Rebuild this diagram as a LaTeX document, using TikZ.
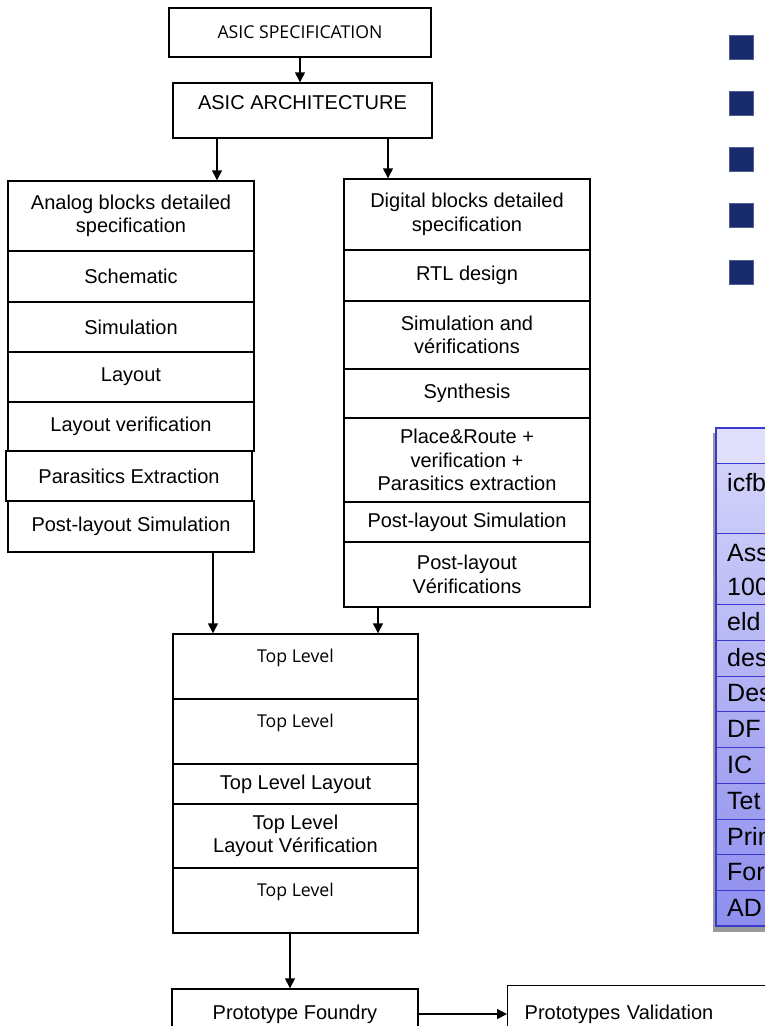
\documentclass[tikz,border=0pt]{standalone}
\usepackage{fontspec}
\setmainfont{Liberation Sans}
\newfontfamily\notefont{Open Sans}
\usetikzlibrary{arrows.meta}
\definecolor{navy}{HTML}{172A6B}
\definecolor{lilactop}{HTML}{E0E0FC}
\definecolor{lilac}{HTML}{D2D2FA}
\definecolor{lilacdark}{HTML}{8E8EEE}
\definecolor{rule}{HTML}{3A3AD0}

\begin{document}
\begin{tikzpicture}[x=1pt,y=-1pt]
	\def\lw{1.4pt}
	\tikzstyle{cell} = [draw, line width=\lw, rectangle, inner sep=0pt, align=center, font=\fontsize{20}{23.5}\selectfont];
	\tikzstyle{small} = [font=\notefont\fontsize{17.7}{22}\selectfont];
	\tikzstyle{link} = [draw, line width=\lw, -{Triangle[length=10pt,width=10pt]}];
	\tikzstyle{bullet} = [draw=navy!75!white, fill=navy, rectangle, minimum size=24pt, inner sep=0pt];
	\tikzstyle{entry} = [anchor=west, inner sep=0pt, font=\fontsize{25}{34}\selectfont];
	\useasboundingbox[fill=white] (0,0) rectangle (765,1026);

	% top of the flow
	\node[cell, small, minimum width=262pt, minimum height=49pt] (spec) at (300,32.5) {ASIC SPECIFICATION};
	\node[cell, minimum width=259pt, minimum height=55pt] (arch) at (302.5,110.5) {ASIC ARCHITECTURE\\[-8pt]\phantom{A}};

	% analog column
	\foreach \nm/\xc/\ya/\yb/\txt in {a1/131/181/251/{Analog blocks detailed\\specification},
		a2/131/251/302/Schematic, a3/131/302/352/Simulation, a4/131/352/402/Layout,
		a5/131/402/451/Layout verification, a6/129/451/501/Parasitics Extraction,
		a7/131/501/552/Post-layout Simulation}
	{
		\node[cell, minimum width=246pt, minimum height={(\yb-\ya)*1pt}] (\nm) at (\xc,{(\ya+\yb)/2}) {\txt};
	}

	% digital column
	\foreach \nm/\ya/\yb/\txt in {d1/179/250/{Digital blocks detailed\\specification},
		d2/250/301/RTL design, d3/301/369/{Simulation and\\vérifications},
		d4/369/418/Synthesis, d5/418/502/{Place\&Route +\\verification +\\Parasitics extraction},
		d6/502/542/Post-layout Simulation, d7/542/607/{Post-layout\\Vérifications}}
	{
		\node[cell, minimum width=246pt, minimum height={(\yb-\ya)*1pt}] (\nm) at (467,{(\ya+\yb)/2}) {\txt};
	}

	% top level
	\node[cell, small, minimum width=245pt, minimum height=65pt] (t1) at (295.5,666.5) {Top Level\\\phantom{T}};
	\node[cell, small, minimum width=245pt, minimum height=65pt] (t2) at (295.5,731.5) {Top Level\\\phantom{T}};
	\node[cell, minimum width=245pt, minimum height=40pt] (t3) at (295.5,784) {Top Level Layout};
	\node[cell, minimum width=245pt, minimum height=64pt] (t4) at (295.5,836) {Top Level\\Layout Vérification};
	\node[cell, small, minimum width=245pt, minimum height=65pt] (t5) at (295.5,900.5) {Top Level\\\phantom{T}};

	% prototypes
	\node[cell, minimum width=246pt, minimum height=50pt] (pf) at (295,1014) {Prototype Foundry};
	\node[cell, anchor=north west, text width=283pt, align=left, inner xsep=17pt, minimum height=58pt] (pv) at (507,985) {Prototypes Validation};

	% arrows
	\draw[link] (spec.south) -- (spec.south |- arch.north);
	\draw[link] ([xshift=-85.5pt]arch.south) -- ([xshift=-85.5pt]arch.south |- a1.north);
	\draw[link] ([xshift=85.5pt]arch.south) -- ([xshift=85.5pt]arch.south |- d1.north);
	\draw[link] ([xshift=82pt]a7.south) -- ([xshift=82pt]a7.south |- t1.north);
	\draw[link] ([xshift=-89pt]d7.south) -- ([xshift=-89pt]d7.south |- t1.north);
	\draw[link] ([xshift=-5.5pt]t5.south) -- ([xshift=-5.5pt]t5.south |- pf.north);
	\draw[link] (pf.east) -- (pf.east -| pv.west);

	% bullets
	\foreach \i in {0,...,4}
		\node[bullet] (sq\i) at (741,{47+56.2*\i}) {};

	% table
	\fill[black!40] (713,433) rectangle (780,932);
	\fill[lilactop] (716,428) rectangle (780,463);
	\shade[top color=lilac, bottom color=lilacdark] (716,463) rectangle (780,926);
	\foreach \yy in {463,533,604,640,676,711,747,783,819,854,890}
		\draw[rule, line width=1pt] (716,\yy) -- (780,\yy);
	\draw[rule, line width=1.2pt] (780,428) -- (716,428) -- (716,926) -- (780,926);
	\node[entry] (r1) at (727,483) {icfb};
	\node[entry] (r2a) at (727,553) {Ass};
	\node[entry] (r2b) at (727,587) {100};
	\foreach \nm/\txt [count=\k] in {r3/eld, r4/des, r5/Des, r6/DF, r7/IC, r8/Tet, r9/Prin, r10/For, r11/AD}
		\node[entry] (\nm) at (727,{604+35.8*(\k-0.5)}) {\txt};
\end{tikzpicture}
\end{document}
